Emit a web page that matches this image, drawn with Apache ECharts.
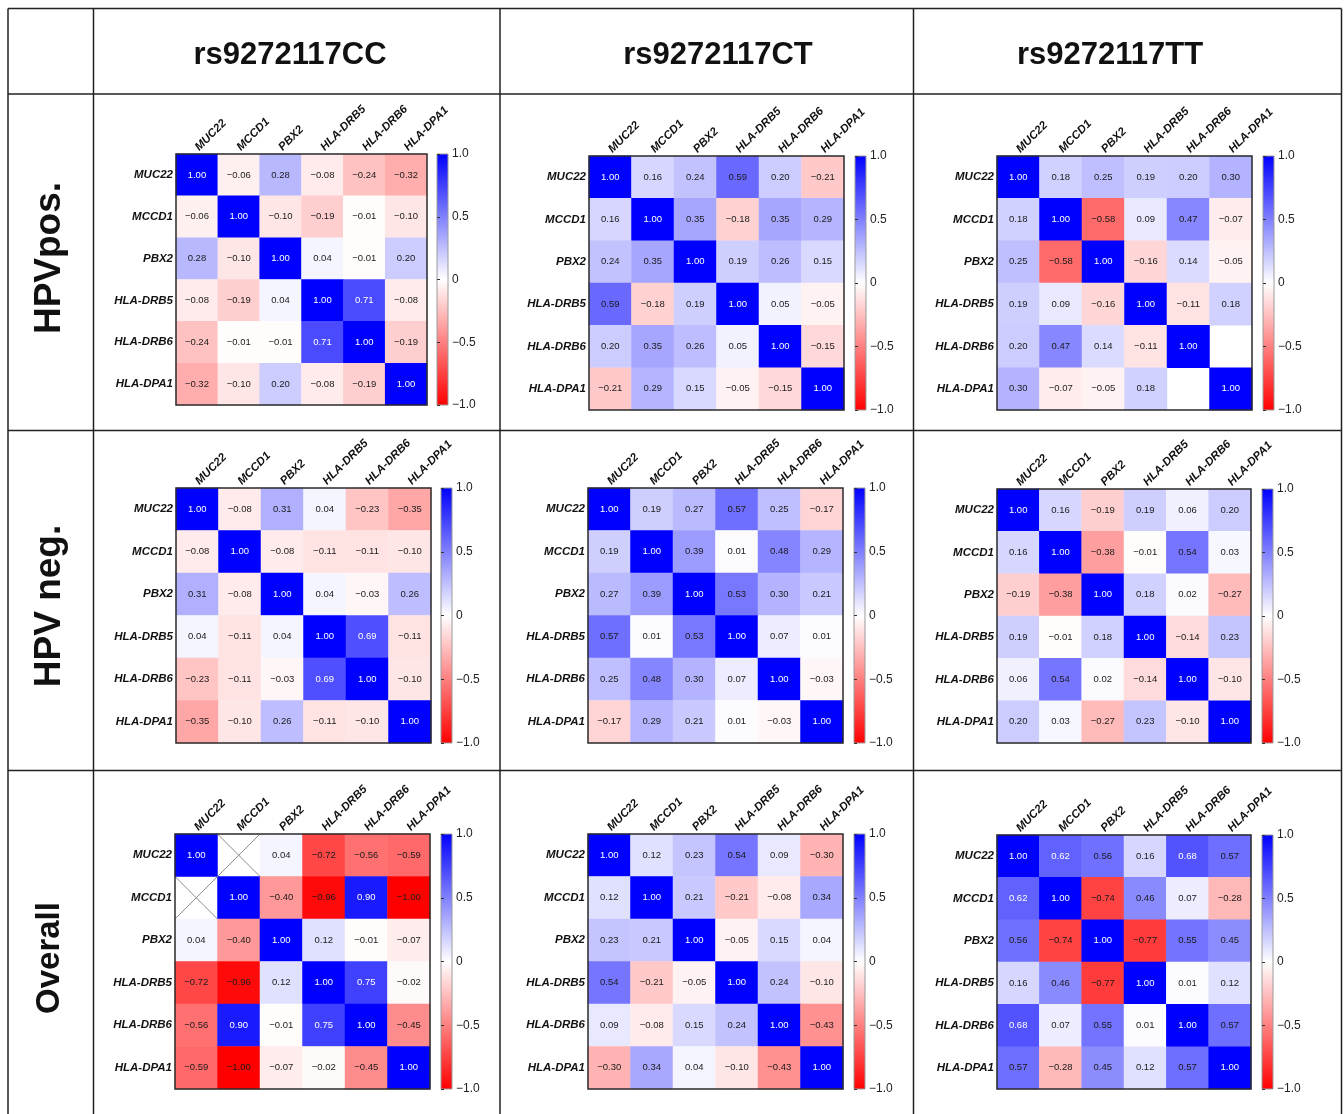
<!DOCTYPE html>
<html>
<head>
<meta charset="utf-8">
<script src="https://cdn.jsdelivr.net/npm/echarts@6/dist/echarts.min.js"></script>
<style>
  html, body { margin: 0; padding: 0; background: #fff; }
  #chart { width: 1344px; height: 1114px; }
</style>
</head>
<body>
<div id="chart"></div>
<script>
// Gene order used on both axes of every correlation matrix
const genes = ['MUC22', 'MCCD1', 'PBX2', 'HLA-DRB5', 'HLA-DRB6', 'HLA-DPA1'];
const genotypes = ['rs9272117CC', 'rs9272117CT', 'rs9272117TT'];
const groups = ['HPVpos.', 'HPV neg.', 'Overall'];
const colorbarTicks = [-1.0, -0.5, 0, 0.5, 1.0];

// Pearson correlation matrices (row gene x column gene); null = not estimable
const hpvPosCC = [
  [1.00, -0.06, 0.28, -0.08, -0.24, -0.32],
  [-0.06, 1.00, -0.10, -0.19, -0.01, -0.10],
  [0.28, -0.10, 1.00, 0.04, -0.01, 0.20],
  [-0.08, -0.19, 0.04, 1.00, 0.71, -0.08],
  [-0.24, -0.01, -0.01, 0.71, 1.00, -0.19],
  [-0.32, -0.10, 0.20, -0.08, -0.19, 1.00]
];
const hpvPosCT = [
  [1.00, 0.16, 0.24, 0.59, 0.20, -0.21],
  [0.16, 1.00, 0.35, -0.18, 0.35, 0.29],
  [0.24, 0.35, 1.00, 0.19, 0.26, 0.15],
  [0.59, -0.18, 0.19, 1.00, 0.05, -0.05],
  [0.20, 0.35, 0.26, 0.05, 1.00, -0.15],
  [-0.21, 0.29, 0.15, -0.05, -0.15, 1.00]
];
const hpvPosTT = [
  [1.00, 0.18, 0.25, 0.19, 0.20, 0.30],
  [0.18, 1.00, -0.58, 0.09, 0.47, -0.07],
  [0.25, -0.58, 1.00, -0.16, 0.14, -0.05],
  [0.19, 0.09, -0.16, 1.00, -0.11, 0.18],
  [0.20, 0.47, 0.14, -0.11, 1.00, null],
  [0.30, -0.07, -0.05, 0.18, null, 1.00]
];
const hpvNegCC = [
  [1.00, -0.08, 0.31, 0.04, -0.23, -0.35],
  [-0.08, 1.00, -0.08, -0.11, -0.11, -0.10],
  [0.31, -0.08, 1.00, 0.04, -0.03, 0.26],
  [0.04, -0.11, 0.04, 1.00, 0.69, -0.11],
  [-0.23, -0.11, -0.03, 0.69, 1.00, -0.10],
  [-0.35, -0.10, 0.26, -0.11, -0.10, 1.00]
];
const hpvNegCT = [
  [1.00, 0.19, 0.27, 0.57, 0.25, -0.17],
  [0.19, 1.00, 0.39, 0.01, 0.48, 0.29],
  [0.27, 0.39, 1.00, 0.53, 0.30, 0.21],
  [0.57, 0.01, 0.53, 1.00, 0.07, 0.01],
  [0.25, 0.48, 0.30, 0.07, 1.00, -0.03],
  [-0.17, 0.29, 0.21, 0.01, -0.03, 1.00]
];
const hpvNegTT = [
  [1.00, 0.16, -0.19, 0.19, 0.06, 0.20],
  [0.16, 1.00, -0.38, -0.01, 0.54, 0.03],
  [-0.19, -0.38, 1.00, 0.18, 0.02, -0.27],
  [0.19, -0.01, 0.18, 1.00, -0.14, 0.23],
  [0.06, 0.54, 0.02, -0.14, 1.00, -0.10],
  [0.20, 0.03, -0.27, 0.23, -0.10, 1.00]
];
const overallCC = [
  [1.00, null, 0.04, -0.72, -0.56, -0.59],
  [null, 1.00, -0.40, -0.96, 0.90, -1.00],
  [0.04, -0.40, 1.00, 0.12, -0.01, -0.07],
  [-0.72, -0.96, 0.12, 1.00, 0.75, -0.02],
  [-0.56, 0.90, -0.01, 0.75, 1.00, -0.45],
  [-0.59, -1.00, -0.07, -0.02, -0.45, 1.00]
];
const overallCT = [
  [1.00, 0.12, 0.23, 0.54, 0.09, -0.30],
  [0.12, 1.00, 0.21, -0.21, -0.08, 0.34],
  [0.23, 0.21, 1.00, -0.05, 0.15, 0.04],
  [0.54, -0.21, -0.05, 1.00, 0.24, -0.10],
  [0.09, -0.08, 0.15, 0.24, 1.00, -0.43],
  [-0.30, 0.34, 0.04, -0.10, -0.43, 1.00]
];
const overallTT = [
  [1.00, 0.62, 0.56, 0.16, 0.68, 0.57],
  [0.62, 1.00, -0.74, 0.46, 0.07, -0.28],
  [0.56, -0.74, 1.00, -0.77, 0.55, 0.45],
  [0.16, 0.46, -0.77, 1.00, 0.01, 0.12],
  [0.68, 0.07, 0.55, 0.01, 1.00, 0.57],
  [0.57, -0.28, 0.45, 0.12, 0.57, 1.00]
];
// Cells crossed out (no data), as [column index, row index]
const overallCCCrossed = [[1, 0], [0, 1]];

const FONT = '"Liberation Sans", Arial, Helvetica, sans-serif';

// Panel placement: heatmap box and its colour bar
const panels = [
  { m: hpvPosCC, x: 176, y: 154, w: 251, h: 251, cb: 437 },
  { m: hpvPosCT, x: 589, y: 156, w: 255, h: 254, cb: 855 },
  { m: hpvPosTT, x: 997, y: 156, w: 255, h: 254, cb: 1263 },
  { m: hpvNegCC, x: 176, y: 488, w: 255, h: 255, cb: 441 },
  { m: hpvNegCT, x: 588, y: 488, w: 255, h: 255, cb: 854 },
  { m: hpvNegTT, x: 997, y: 489, w: 254, h: 254, cb: 1262 },
  { m: overallCC, x: 175, y: 834, w: 255, h: 255, cb: 441, crossed: overallCCCrossed },
  { m: overallCT, x: 588, y: 834, w: 255, h: 255, cb: 854 },
  { m: overallTT, x: 997, y: 835, w: 254, h: 254, cb: 1262 }
];

const fmt = v => (v < 0 ? '\u2212' : '') + Math.abs(v).toFixed(2);
const fmtTick = v => v === 0 ? '0' : (v < 0 ? '\u2212' : '') + Math.abs(v).toFixed(1);

const grid = [], xAxis = [], yAxis = [], series = [], visualMap = [];

panels.forEach((p, k) => {
  // heatmap grid (drawn above cells so the frame stays crisp)
  const gi = grid.length;
  grid.push({ left: p.x, top: p.y, width: p.w, height: p.h, show: true, z: 5,
    backgroundColor: 'transparent', borderColor: '#2b2b2b', borderWidth: 1.5 });
  xAxis.push({ type: 'category', gridIndex: gi, data: genes, position: 'top',
    axisLine: { show: false }, axisTick: { show: false }, splitLine: { show: false },
    axisLabel: { interval: 0, rotate: -45, margin: 5, fontSize: 11.5, fontWeight: 'bold',
      fontStyle: 'italic', color: '#111', fontFamily: FONT } });
  yAxis.push({ type: 'category', gridIndex: gi, data: genes, inverse: true,
    axisLine: { show: false }, axisTick: { show: false }, splitLine: { show: false },
    axisLabel: { interval: 0, margin: 3, fontSize: 11.5, fontWeight: 'bold',
      fontStyle: 'italic', color: '#111', fontFamily: FONT } });

  const data = [];
  p.m.forEach((row, i) => row.forEach((v, j) => {
    if (v === null) return;
    data.push({ value: [j, i, v], label: { color: v >= 0.6 ? '#ffffff' : '#1a1a1a' } });
  }));
  const si = series.length;
  series.push({ type: 'heatmap', xAxisIndex: gi, yAxisIndex: gi, data,
    label: { show: true, formatter: o => fmt(o.value[2]), fontSize: 9.5, fontFamily: FONT },
    emphasis: { disabled: true } });
  visualMap.push({ type: 'continuous', show: false, min: -1, max: 1, dimension: 2,
    seriesIndex: si, inRange: { color: ['#ff0000', '#ffffff', '#0000ff'] } });

  if (p.crossed) {
    series.push({ type: 'custom', xAxisIndex: gi, yAxisIndex: gi, data: p.crossed, z: 3,
      renderItem: (params, api) => {
        const c = api.coord([api.value(0), api.value(1)]);
        const s = api.size([1, 1]);
        const x0 = c[0] - s[0] / 2, x1 = c[0] + s[0] / 2;
        const y0 = c[1] - s[1] / 2, y1 = c[1] + s[1] / 2;
        const st = { stroke: '#8a8a8a', lineWidth: 1 };
        return { type: 'group', children: [
          { type: 'line', shape: { x1: x0, y1: y0, x2: x1, y2: y1 }, style: st },
          { type: 'line', shape: { x1: x0, y1: y1, x2: x1, y2: y0 }, style: st }
        ] };
      } });
  }

  // colour bar: gradient box with its own value axis
  const ci = grid.length;
  grid.push({ left: p.cb, top: p.y, width: 11, height: p.h, show: true,
    borderColor: '#9a9a9a', borderWidth: 1,
    backgroundColor: new echarts.graphic.LinearGradient(0, 0, 0, 1, [
      { offset: 0, color: '#0000ff' }, { offset: 0.5, color: '#ffffff' }, { offset: 1, color: '#ff0000' }
    ]) });
  xAxis.push({ type: 'value', gridIndex: ci, show: false, min: 0, max: 1 });
  yAxis.push({ type: 'value', gridIndex: ci, position: 'right',
    min: colorbarTicks[0], max: colorbarTicks[colorbarTicks.length - 1], interval: 0.5,
    axisLine: { show: false }, splitLine: { show: false },
    axisTick: { show: true, length: 3, lineStyle: { color: '#333', width: 1 } },
    axisLabel: { margin: 4, fontSize: 12, color: '#222', fontFamily: FONT, formatter: fmtTick } });
});

// table frame
const L = 8, R = 1341.5, T = 8.5, B = 1114;
const colX = [93.5, 500, 913.5];
const rowY = [94, 430.5, 770.5];
const lineStyle = { stroke: '#222', lineWidth: 1.5 };
const graphic = [];
graphic.push({ type: 'line', shape: { x1: L, y1: T, x2: R, y2: T }, style: lineStyle });
graphic.push({ type: 'line', shape: { x1: L, y1: T, x2: L, y2: B }, style: lineStyle });
graphic.push({ type: 'line', shape: { x1: R, y1: T, x2: R, y2: B }, style: lineStyle });
colX.forEach(x => graphic.push({ type: 'line', shape: { x1: x, y1: T, x2: x, y2: B }, style: lineStyle }));
rowY.forEach(y => graphic.push({ type: 'line', shape: { x1: L, y1: y, x2: R, y2: y }, style: lineStyle }));

const headerCenters = [290, 718, 1110];
genotypes.forEach((g, i) => graphic.push({ type: 'text', x: headerCenters[i], y: 55,
  style: { text: g, font: 'bold 31px ' + FONT, fill: '#111',
    textAlign: 'center', textVerticalAlign: 'middle', align: 'center', verticalAlign: 'middle' } }));

const groupCenters = [258, 606, 958];
const groupSizes = [37, 37, 33];
groups.forEach((g, i) => graphic.push({ type: 'text', x: 50, y: groupCenters[i], rotation: Math.PI / 2,
  style: { text: g, font: 'bold ' + groupSizes[i] + 'px ' + FONT, fill: '#111',
    textAlign: 'center', textVerticalAlign: 'middle', align: 'center', verticalAlign: 'middle' } }));

const chart = echarts.init(document.getElementById('chart'), null, { renderer: 'canvas' });
chart.setOption({
  animation: false,
  backgroundColor: '#ffffff',
  textStyle: { fontFamily: FONT },
  grid, xAxis, yAxis, series, visualMap, graphic
});
</script>
</body>
</html>
